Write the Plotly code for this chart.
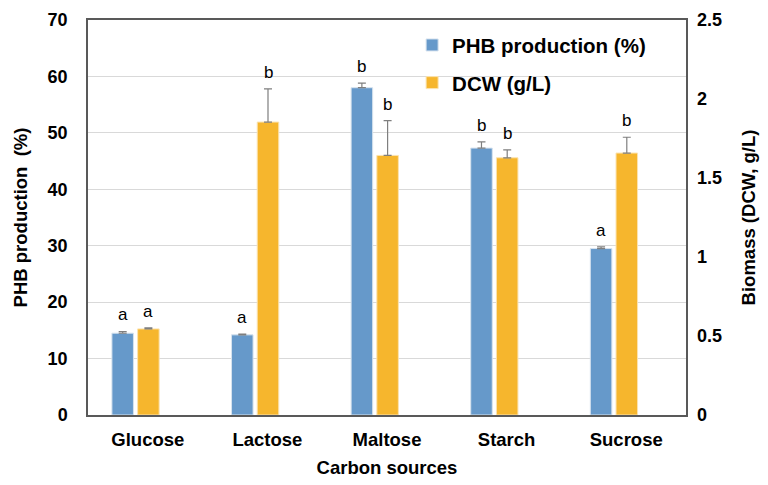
import plotly.graph_objects as go

categories = ["Glucose", "Lactose", "Maltose", "Starch", "Sucrose"]
phb = [14.5, 14.2, 58.0, 47.3, 29.5]
phb_err = [0.3, 0.15, 0.8, 1.1, 0.3]
phb_letters = ["a", "a", "b", "b", "a"]
dcw = [0.545, 1.854, 1.643, 1.628, 1.658]
dcw_err = [0.006, 0.21, 0.22, 0.05, 0.1]
dcw_letters = ["a", "b", "b", "b", "b"]

FONT = "Arial, Liberation Sans, sans-serif"
BLUE = "#6699CA"
ORANGE = "#F6B62D"
W = 0.18
OFF_B = -0.30
OFF_O = -0.085

fig = go.Figure()
fig.add_trace(go.Bar(
    x=categories, y=phb, name="PHB production (%)", legendgroup="a",
    marker=dict(color=BLUE, line=dict(color="#d6e2ee", width=1)),
    width=W, offset=OFF_B,
    error_y=dict(type="data", symmetric=False, array=phb_err, arrayminus=[0]*5,
                 color="#7f7f7f", thickness=1.2, width=4),
    yaxis="y",
))
fig.add_trace(go.Bar(
    x=categories, y=dcw, name="DCW (g/L)", legendgroup="b",
    marker=dict(color=ORANGE, line=dict(color="#fbe3b0", width=1)),
    width=W, offset=OFF_O,
    error_y=dict(type="data", symmetric=False, array=dcw_err, arrayminus=[0]*5,
                 color="#7f7f7f", thickness=1.2, width=4),
    yaxis="y2",
))

ann = []
for i in range(len(categories)):
    ann.append(dict(x=i + OFF_B + W / 2, y=phb[i] + phb_err[i], xref="x", yref="y",
                    text=phb_letters[i], showarrow=False, yanchor="bottom", yshift=5,
                    font=dict(family=FONT, size=17, color="black")))
    ann.append(dict(x=i + OFF_O + W / 2, y=dcw[i] + dcw_err[i], xref="x", yref="y2",
                    text=dcw_letters[i], showarrow=False, yanchor="bottom", yshift=5,
                    font=dict(family=FONT, size=17, color="black")))

TICKF = dict(family=FONT, size=18, color="black", weight="bold")
TITLEF = dict(family=FONT, size=18.5, color="black", weight="bold")

# page body has an 8px margin, so the figure is sized/margined to compensate
fig.update_layout(
    width=760, height=477,
    margin=dict(l=80, r=82, t=12, b=70),
    paper_bgcolor="white", plot_bgcolor="white",
    barmode="overlay",
    font=dict(family=FONT, color="black"),
    showlegend=True,
    legend=dict(x=0.542, y=0.987, xanchor="left", yanchor="top",
                font=dict(family=FONT, size=20.5, color="black", weight="bold"),
                bgcolor="rgba(0,0,0,0)", tracegroupgap=8, traceorder="grouped",
                itemwidth=30),
    xaxis=dict(
        type="category", range=[-0.5, 4.5], automargin=False,
        showline=True, linecolor="#595959", linewidth=1.5, mirror=True,
        ticks="", tickfont=dict(family=FONT, size=18.5, color="black", weight="bold"),
        ticklabelstandoff=7,
        title=dict(text="Carbon sources", font=TITLEF, standoff=12),
    ),
    yaxis=dict(
        range=[0, 70], dtick=10, showgrid=True, gridcolor="#d9d9d9", gridwidth=1,
        showline=True, linecolor="#595959", linewidth=1.5, mirror=True, automargin=False,
        ticks="", tickfont=TICKF, ticklabelstandoff=15,
        title=dict(text="PHB production  (%)", font=TITLEF, standoff=15),
        zeroline=False,
    ),
    yaxis2=dict(
        range=[0, 2.5], dtick=0.5, overlaying="y", side="right", showgrid=False, automargin=False,
        ticks="", tickfont=TICKF, ticklabelstandoff=10,
        tickformat="~g",
        title=dict(text="Biomass (DCW, g/L)", font=TITLEF, standoff=21),
        zeroline=False,
    ),
    annotations=ann,
)

fig.write_html("out.html")
